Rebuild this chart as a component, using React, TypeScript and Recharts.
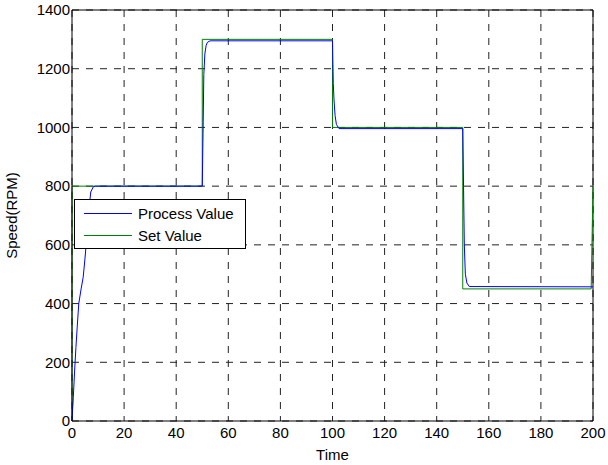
import {
  CartesianGrid,
  Line,
  LineChart,
  ReferenceLine,
  XAxis,
  YAxis,
} from "recharts";

// Speed step response: time axis and RPM values
const pvTime = [0, 0.5, 1, 1.5, 2, 2.6, 3.5, 4.3, 5, 5.8, 6.6, 7.2, 8.2, 9, 50, 50.3, 50.6, 51, 51.5, 52, 53, 100, 100.3, 100.6, 101, 101.5, 102.5, 150, 150.3, 150.6, 151, 151.6, 152.5, 200];
const pvSpeed = [0, 80, 170, 250, 320, 400, 450, 490, 555, 640, 730, 780, 798, 800, 800, 980, 1180, 1250, 1280, 1290, 1295, 1295, 1150, 1090, 1040, 1010, 996, 996, 800, 600, 500, 470, 458, 457];

const svTime = [0, 0, 50, 50, 100, 100, 150, 150, 199.3, 200];
const svSpeed = [0, 800, 800, 1300, 1300, 1000, 1000, 450, 450, 800];

const xTicks = [0, 20, 40, 60, 80, 100, 120, 140, 160, 180, 200];
const yTicks = [0, 200, 400, 600, 800, 1000, 1200, 1400];

const pvData = pvTime.map((t, i) => ({ t, v: pvSpeed[i] }));
const svData = svTime.map((t, i) => ({ t, v: svSpeed[i] }));

const FONT = "'Liberation Sans', Arial, sans-serif";
const tickStyle = { fontSize: 15, fill: "#000", fontFamily: FONT };

const series = [
  { name: "Process Value", color: "#0000ff" },
  { name: "Set Value", color: "#008000" },
];

// legend drawn as an overlay so it doesn't eat into the plot area
function LegendBox() {
  return (
    <div
      style={{
        position: "absolute",
        left: 74,
        top: 199,
        width: 170,
        height: 48,
        border: "1px solid #000",
        background: "#fff",
        fontFamily: FONT,
        fontSize: 15,
        color: "#000",
      }}
    >
      {series.map((s, i) => (
        <div
          key={s.name}
          style={{ position: "absolute", left: 0, top: 3 + i * 22, height: 20, display: "flex", alignItems: "center" }}
        >
          <svg width={63} height={20} style={{ display: "block" }}>
            <line x1={9} x2={57} y1={10.5} y2={10.5} stroke={s.color} strokeWidth={1} />
          </svg>
          <span>{s.name}</span>
        </div>
      ))}
    </div>
  );
}

export default function App() {
  return (
    <div style={{ position: "absolute", left: 0, top: 0, width: 608, height: 465, background: "#fff" }}>
      <LineChart width={608} height={465} margin={{ top: 10, right: 15, left: 0, bottom: 0 }}>
        <CartesianGrid stroke="#222" strokeDasharray="7 7" />
        <XAxis
          type="number"
          dataKey="t"
          domain={[0, 200]}
          ticks={xTicks}
          interval={0}
          height={44}
          tick={tickStyle}
          tickLine={false}
          tickSize={0}
          tickMargin={6}
          axisLine={{ stroke: "#000" }}
          allowDuplicatedCategory={false}
          label={{ value: "Time", position: "insideBottom", offset: 5, style: { ...tickStyle } }}
        />
        <YAxis
          type="number"
          domain={[0, 1400]}
          ticks={yTicks}
          interval={0}
          width={72}
          tick={tickStyle}
          tickLine={false}
          tickSize={0}
          tickMargin={2}
          axisLine={{ stroke: "#000" }}
          label={{ value: "Speed(RPM)", angle: -90, position: "insideLeft", offset: 12, style: { ...tickStyle, textAnchor: "middle" } }}
        />
        <ReferenceLine y={1400} stroke="#000" />
        <ReferenceLine x={200} stroke="#000" />
        <Line
          data={svData}
          dataKey="v"
          name="Set Value"
          stroke="#008000"
          strokeWidth={1}
          dot={false}
          type="linear"
          isAnimationActive={false}
        />
        <Line
          data={pvData}
          dataKey="v"
          name="Process Value"
          stroke="#0000ff"
          strokeWidth={1}
          dot={false}
          type="linear"
          isAnimationActive={false}
        />
      </LineChart>
      <LegendBox />
    </div>
  );
}
